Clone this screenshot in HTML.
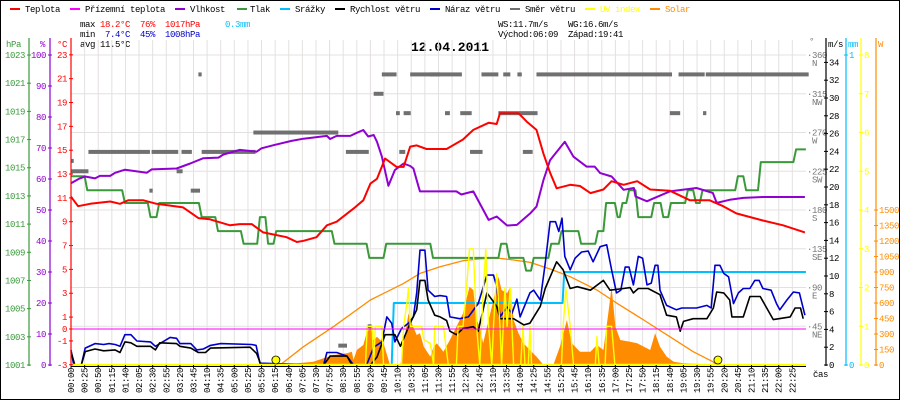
<!DOCTYPE html>
<html><head><meta charset="utf-8">
<style>
html,body{margin:0;padding:0;background:#fff;}
svg{display:block;font-family:"Liberation Mono",monospace;}
text{font-size:9px;letter-spacing:-0.4px;}
</style></head>
<body>
<svg id="chart" width="900" height="400" viewBox="0 0 900 400" xmlns="http://www.w3.org/2000/svg">
<rect x="0.5" y="0.5" width="899" height="399" fill="#fff" stroke="#000"/>
<g id="legend">
<g><rect x="10" y="8" width="10" height="2" fill="#f00"/><text x="25" y="12">Teplota</text></g>
<g><rect x="70" y="8" width="10" height="2" fill="#f0f"/><text x="85" y="12">Přízemní teplota</text></g>
<g><rect x="175" y="8" width="10" height="2" fill="#9000d0"/><text x="190" y="12">Vlhkost</text></g>
<g><rect x="237" y="8" width="10" height="2" fill="#3a9a3a"/><text x="250" y="12">Tlak</text></g>
<g><rect x="280" y="8" width="10" height="2" fill="#00bfff"/><text x="295" y="12">Srážky</text></g>
<g><rect x="335" y="8" width="10" height="2" fill="#000"/><text x="350" y="12">Rychlost větru</text></g>
<g><rect x="430" y="8" width="10" height="2" fill="#0000cc"/><text x="445" y="12">Náraz větru</text></g>
<g><rect x="510" y="8" width="10" height="2" fill="#707070"/><text x="525" y="12">Směr větru</text></g>
<g><rect x="585" y="8" width="10" height="2" fill="#ff0"/><text x="600" y="12" fill="#ff0">UV index</text></g>
<g><rect x="650" y="8" width="10" height="2" fill="#ff8c00"/><text x="665" y="12" fill="#ff8c00">Solar</text></g>
</g>
<g>
<text x="80" y="27">max</text><text x="100" y="27" fill="#f00">18.2°C</text><text x="140" y="27" fill="#f00">76%</text><text x="165" y="27" fill="#f00">1017hPa</text><text x="225" y="27" fill="#00bfff">0.3mm</text>
<text x="80" y="37">min</text><text x="105" y="37" fill="#0000cc">7.4°C</text><text x="140" y="37" fill="#0000cc">45%</text><text x="165" y="37" fill="#0000cc">1008hPa</text>
<text x="80" y="47">avg</text><text x="100" y="47">11.5°C</text>
<text x="498" y="27">WS:11.7m/s</text><text x="568" y="27">WG:16.6m/s</text>
<text x="498" y="37">Východ:06:09</text><text x="568" y="37">Západ:19:41</text>
</g>
<text x="450" y="51" text-anchor="middle" style="font-size:13px;font-weight:bold;letter-spacing:0">12.04.2011</text>
<g id="grid"></g><g id="marks"></g><g id="axes"></g>
</svg>
<script>
const tempT=[0,13,35,72,90,105,133,157,206,234,255,292,310,332,353,396,415,427,451,470,488,519,537,550,562,577,598,611,623,635,653,678,690,720,739,767,782,788,807,822,837,855,868,880,892,917,935,954,978,993,1015,1040,1064,1100,1137,1173,1198,1222,1271,1308,1348];
const tempV=[11.1,10.3,10.5,10.7,10.5,10.8,10.8,10.5,10.2,9.3,9.2,8.7,8.8,8.8,8.1,7.7,7.3,7.4,7.7,8.7,9.0,10.1,10.8,12.2,12.6,14.3,13.6,13.6,15.3,15.4,15.1,15.1,15.1,15.9,16.7,17.3,17.2,18.1,18.1,18.1,17.4,16.7,14.7,13.1,11.8,12.1,12.0,11.4,11.7,12.4,12.1,12.4,11.7,11.6,10.8,10.8,10.3,9.7,9.1,8.7,8.1];
const humT=[0,16,26,44,53,72,81,99,139,148,194,219,243,271,280,310,341,350,372,405,427,470,476,488,513,525,537,546,556,562,571,583,595,611,623,629,638,641,678,708,717,739,754,767,782,801,819,844,855,868,880,907,923,947,962,972,993,1015,1034,1037,1058,1064,1100,1149,1179,1186,1210,1235,1271,1348];
const humV=[58.6,60.2,60.8,60.2,61,61,62,63,62,63.1,63.4,65,66.7,66.9,67.9,69.4,68.8,69.9,70.9,72.3,73,73.9,72.9,73.9,73.9,74.9,75.8,73.7,74.2,72,67.2,57.8,62.9,65,64.2,63.4,57.8,56,56,56,55,56,51.1,46.8,47.9,45,45.2,49,51.1,59.7,66.1,72,67.2,64,64,61.9,60.8,56.5,57.1,54.4,52.8,53.3,56,57.1,55.5,52.3,53.3,53.9,54.2,54.2];
const presT=[0,25,94,141,157,235,265,312,342,357,372,479,543,574,660,785,800,831,845,877,896,932,963,978,999,1008,1020,1037,1066,1083,1097,1128,1143,1155,1220,1235,1262,1327];
const presV=[1014.4,1013.4,1012.5,1011.5,1012.5,1011.5,1010.5,1009.6,1011.5,1009.6,1010.5,1009.6,1008.6,1009.6,1008.6,1009.6,1008.6,1007.7,1008.6,1009.6,1010.5,1009.6,1010.5,1012.5,1011.5,1012.5,1013.4,1011.5,1012.5,1011.5,1012.5,1013.4,1012.5,1013.4,1014.4,1013.4,1015.4,1016.3];
const windT=[0,7,19,26,44,60,81,90,99,110,121,146,155,163,194,200,220,234,247,256,329,341,349,464,476,507,516,550,562,577,595,605,623,635,641,650,656,668,678,690,696,708,720,739,748,764,776,782,788,813,832,843,862,871,892,904,917,930,954,978,990,1015,1027,1033,1042,1060,1082,1094,1112,1119,1125,1143,1168,1180,1186,1199,1210,1214,1235,1247,1266,1278,1290,1321,1330,1340,1345];
const windV=[1.5,0,0,1.5,1.8,1.6,1.7,1.4,2.6,2.5,2.1,2.1,1.7,2.5,2.4,2.1,1.9,1.4,1.4,1.9,2.0,1.3,0,0,1.0,1.0,0,0,0.9,3.4,3.4,2.1,4.7,6.2,9.5,9.5,7.3,5.6,5.4,5.0,3.8,3.4,4.1,4.3,3.8,8.1,7.1,6.6,5.2,5.2,4.5,4.7,6.6,8.6,11.6,10.7,8.6,8.8,8.4,9.5,8.4,8.6,8.7,8.1,8.6,8.6,7.9,5.6,5.4,3.8,4.9,5.2,5.2,6.4,8.2,8.1,7.3,5.4,5.4,7.7,7.7,6.4,5.1,5.4,6.4,6.4,5.2];
const gustT=[0,5,19,26,44,60,70,81,90,99,110,121,146,155,182,194,200,220,231,243,256,275,332,340,347,464,470,488,507,519,543,556,571,580,589,595,607,620,629,635,641,650,656,668,678,690,696,714,730,748,764,776,782,788,801,810,819,825,843,850,862,871,880,890,896,902,907,917,926,938,950,959,972,984,993,1002,1010,1018,1025,1033,1042,1050,1058,1066,1073,1078,1082,1094,1112,1122,1149,1168,1176,1183,1192,1199,1208,1217,1226,1235,1247,1256,1264,1271,1286,1296,1302,1315,1327,1338,1348];
const gustV=[1.7,0,0,1.9,2.4,2.3,2.4,2.3,2.1,3.4,3.4,2.7,2.6,2.1,3.1,3.0,2.4,2.4,1.7,1.8,2.2,2.4,2.3,2.2,0.2,0,1.4,1.4,1.0,0,0,2.0,2.6,5.4,4.7,2.6,4.1,4.7,5.4,8.1,12.9,12.9,8.4,7.7,7.8,7.7,5.4,5.2,5.4,6.9,10.1,10.1,8.8,5.4,6.5,5.8,7.4,5.4,8.1,8.4,7.3,11.4,16.1,16.1,15.0,16.5,12.2,10.7,12.0,12.7,12.8,11.6,13.3,13.5,10.7,8.1,8.4,11.0,11.0,9.0,12.2,12.0,9.0,9.2,11.2,11.2,8.4,6.7,6.2,6.4,6.4,6.7,6.4,11.2,11.2,10.3,9.9,6.9,8.1,8.6,8.6,9.5,9.5,8.6,8.4,6.9,6.2,7.3,8.2,8.1,5.6];
const dirStart=[0,0,32,148,203,240,234,144,194,220,335,491,505,545,556,571,597,611,603,623,659,754,794,820,855,1116,1166,687,715,785,1100,1161,733,830];
const dirEnd=[32,5,145,197,222,339,240,150,205,237,491,507,547,552,574,598,604,624,614,678,718,785,807,828,1104,1164,1355,696,736,857,1119,1167,756,848];
const dirDeg=[225,237,247.5,247.5,247.5,247.5,337.5,202.5,225,202.5,270,22.5,247.5,45,315,337.5,292.5,292.5,247.5,337.5,337.5,337.5,337.5,337.5,337.5,337.5,337.5,292.5,292.5,292.5,292.5,292.5,247.5,247.5];
const rainT=[0,589,593,903,906,1350];
const rainV=[0,0,0.2,0.2,0.3,0.3];
const uvT=[0,541,544,553,556,559,571,574,607,611,617,620,623,644,648,660,666,668,684,693,708,711,720,726,732,739,745,751,757,762,767,773,776,782,788,791,797,801,807,813,826,830,834,840,843,846,901,904,909,917,923,963,966,970,981,984,993,999,1350];
const uvV=[0,0,1.0,1.0,0,1.0,1.0,0,0,1.0,1.6,2.0,1.0,1.0,0.65,0.56,0,1.0,1.0,0,0,1.0,1.0,1.85,3.0,3.0,1.0,0,1.85,3.0,1.0,0,1.0,2.36,1.0,0,2.0,1.0,2.0,0,0,1.0,0,0,1.0,0,0,1.0,1.97,1.0,0,0,0.73,0,0,1.0,1.0,0,0];
const solT=[384,402,445,464,482,507,516,519,525,537,543,550,556,562,574,586,605,611,620,626,635,641,648,660,666,672,684,696,708,720,726,732,739,745,751,757,767,776,785,791,801,807,813,822,831,843,855,868,886,898,911,920,935,954,966,978,987,993,1000,1009,1027,1040,1064,1073,1082,1094,1107,1125,1157,1161];
const solV=[0,10,32,65,97,113,129,48,145,194,307,371,242,274,210,0,0,210,500,403,290,307,177,81,177,210,129,242,371,500,629,758,726,436,371,210,436,629,855,726,694,758,436,307,210,145,81,0,0,177,436,210,129,129,194,145,500,758,371,242,226,210,145,307,177,81,32,16,10,0];
const clrT=[384,427,482,550,611,641,678,720,751,782,813,843,880,917,966,1003,1052,1100,1143,1179,1185];
const clrV=[0,177,371,629,790,887,952,1010,1027,1036,1016,994,929,855,726,597,436,274,129,32,0];
const sunTimes=[369,1181];
const timeLabels=['00:00','00:25','00:50','01:15','01:40','02:05','02:30','02:55','03:20','03:45','04:10','04:35','05:00','05:25','05:50','06:15','06:40','07:05','07:30','07:55','08:30','08:55','09:20','09:45','10:10','10:35','11:05','11:30','11:55','12:20','12:45','13:10','13:35','14:00','14:25','14:55','15:20','15:45','16:10','16:35','17:00','17:25','17:50','18:15','18:40','19:05','19:30','19:55','20:20','20:45','21:10','21:35','22:00','22:25'];
const tempTicks=[23,21,19,17,15,13,11,9,7,5,3,1,0,-1,-3];
const humTicks=[0,10,20,30,40,50,60,70,80,90,100];
const presTicks=[1001,1003,1005,1007,1009,1011,1013,1015,1017,1019,1021,1023];
const dirTicks=[45,90,135,180,225,270,315,360];
const dirNames=['NE','E','SE','S','SW','W','NW','N'];
const msTicks=[0,2,4,6,8,10,12,14,16,18,20,22,24,26,28,30,32,34];
const uvTicks=[0,1,2,3,4,5,6,7,8];
const wTicks=[0,150,300,450,600,750,900,1050,1200,1350,1500];

const NS='http://www.w3.org/2000/svg';
const X=t=>71+t*0.5444;
const yT=v=>329-v*11.92, yH=v=>365-v*3.1, yP=v=>365-(v-1001)*14.09, yV=v=>365-v*8.9;
const yD=v=>365-v*0.861, yR=v=>365-v*310, yU=v=>365-v*38.75, yS=v=>365-v*0.1033;
function mk(parent,tag,at){const e=document.createElementNS(NS,tag);for(const k in at)e.setAttribute(k,at[k]);parent.appendChild(e);return e;}
function txt(parent,x,y,s,fill,anchor){const e=mk(parent,'text',{x:x,y:y,fill:fill||'#000','text-anchor':anchor||'start'});e.textContent=s;return e;}
const grid=document.getElementById('grid'),marks=document.getElementById('marks'),axes=document.getElementById('axes');
function pts(T,V,fy){return T.map((t,i)=>X(t).toFixed(1)+','+fy(V[i]).toFixed(1)).join(' ');}
function line(T,V,fy,color,w,name){const e=mk(marks,'polyline',{points:pts(T,V,fy),fill:'none',stroke:color,'stroke-width':w,'stroke-linejoin':'round'});

return e;}

for(let k=0;k<=8;k++){const y=55+k*38.75;const g=mk(grid,'line',{x1:71,x2:806,y1:y,y2:y,stroke:'#e4e0e0','stroke-width':1});

}
timeLabels.forEach((s,i)=>{const x=71+i*13.61;const g=mk(grid,'line',{x1:x,x2:x,y1:40,y2:365,stroke:'#e4e0e0','stroke-width':1});


mk(axes,'line',{x1:x,x2:x,y1:365,y2:368,stroke:'#000'});
const t=txt(axes,x+3,368,s,'#000','end');t.setAttribute('transform','rotate(-90 '+(x+3)+' 368)');

});

const sp='M'+X(solT[0])+','+yS(0)+' L'+pts(solT,solV,yS).split(' ').join(' L')+' L'+X(solT[solT.length-1])+','+yS(0)+'Z';
const sol=mk(marks,'path',{d:sp,fill:'#ff8c00',stroke:'none'});


line(clrT,clrV,yS,'#ff8c00',1.3,'clear-sky-solar-line');
line(rainT,rainV,yR,'#00bfff',2,'rain-line');
dirStart.forEach((s,i)=>{const r=mk(marks,'rect',{x:X(s),y:yD(dirDeg[i])-2,width:Math.max(2,X(dirEnd[i])-X(s)),height:4,fill:'#707070'});

});
const pT=[],pV=[];presT.forEach((t,i)=>{if(i>0){pT.push(t);pV.push(presV[i-1]);pT.push(t+5);pV.push(presV[i]);}else{pT.push(t);pV.push(presV[i]);}});
pT.push(1350);pV.push(presV[presV.length-1]);
line(pT,pV,yP,'#3a9a3a',2,'pressure-line');
line(humT,humV,yH,'#9000d0',2,'humidity-line');
line(tempT,tempV,yT,'#f00',2,'temperature-line');
line(gustT,gustV,yV,'#0000cc',1.6,'wind-gust-line');
line(windT,windV,yV,'#000',1.6,'wind-speed-line');
line(uvT,uvV,yU,'#ff0',1.4,'uv-index-line');
const mg=mk(marks,'line',{x1:71,x2:806,y1:yT(0),y2:yT(0),stroke:'#f0f','stroke-width':1});


const yb=mk(marks,'line',{x1:71,x2:806,y1:365,y2:365,stroke:'#ff0','stroke-width':2.5});


mk(marks,'line',{x1:71,x2:806,y1:366.5,y2:366.5,stroke:'#000','stroke-width':1});
sunTimes.forEach(t=>{const c=mk(marks,'circle',{cx:X(t)+4,cy:360,r:4,fill:'#ff0',stroke:'#000','stroke-width':0.8});

});

function vaxis(x,color,y1,y2){mk(axes,'line',{x1:x,x2:x,y1:y1,y2:y2,stroke:color,'stroke-width':1.2});}
vaxis(29,'#3a9a3a',38,366);vaxis(50,'#9000d0',38,366);vaxis(71,'#f00',38,366);
txt(axes,6,47,'hPa','#3a9a3a');txt(axes,40,47,'%','#9000d0');txt(axes,57,47,'°C','#f00');
presTicks.forEach(v=>{const y=yP(v);mk(axes,'line',{x1:27,x2:31,y1:y,y2:y,stroke:'#3a9a3a'});txt(axes,25,y+3,String(v),'#3a9a3a','end');});
humTicks.forEach(v=>{const y=yH(v);mk(axes,'line',{x1:48,x2:52,y1:y,y2:y,stroke:'#9000d0'});txt(axes,46,y+3,String(v),'#9000d0','end');});
tempTicks.forEach(v=>{const y=yT(v);mk(axes,'line',{x1:69,x2:73,y1:y,y2:y,stroke:'#f00'});txt(axes,67,y+3,String(v),'#f00','end');});
txt(axes,809,44,'°','#777');
dirTicks.forEach((v,i)=>{const y=yD(v);txt(axes,807,y+3,'·'+v,'#777');txt(axes,812,y+11,dirNames[i],'#777');});
vaxis(826,'#000',38,366);txt(axes,828,47,'m/s','#000');
msTicks.forEach(v=>{const y=yV(v);mk(axes,'line',{x1:824,x2:828,y1:y,y2:y,stroke:'#000'});txt(axes,829,y+3,String(v),'#000');});
vaxis(846,'#00bfff',38,366);txt(axes,848,47,'mm','#00bfff');
[0,1].forEach(v=>{const y=yR(v);mk(axes,'line',{x1:844,x2:848,y1:y,y2:y,stroke:'#00bfff'});txt(axes,849,y+3,String(v),'#00bfff');});
vaxis(861,'#ff0',38,366);
uvTicks.forEach(v=>{const y=yU(v);mk(axes,'line',{x1:859,x2:863,y1:y,y2:y,stroke:'#ff0'});txt(axes,864,y+3,String(v),'#ff0');});
vaxis(876,'#ff8c00',38,366);txt(axes,878,47,'W','#ff8c00');
wTicks.forEach(v=>{const y=yS(v);mk(axes,'line',{x1:874,x2:878,y1:y,y2:y,stroke:'#ff8c00'});txt(axes,879,y+3,String(v),'#ff8c00');});
txt(axes,813,377,'čas','#000');
</script>
</body></html>
